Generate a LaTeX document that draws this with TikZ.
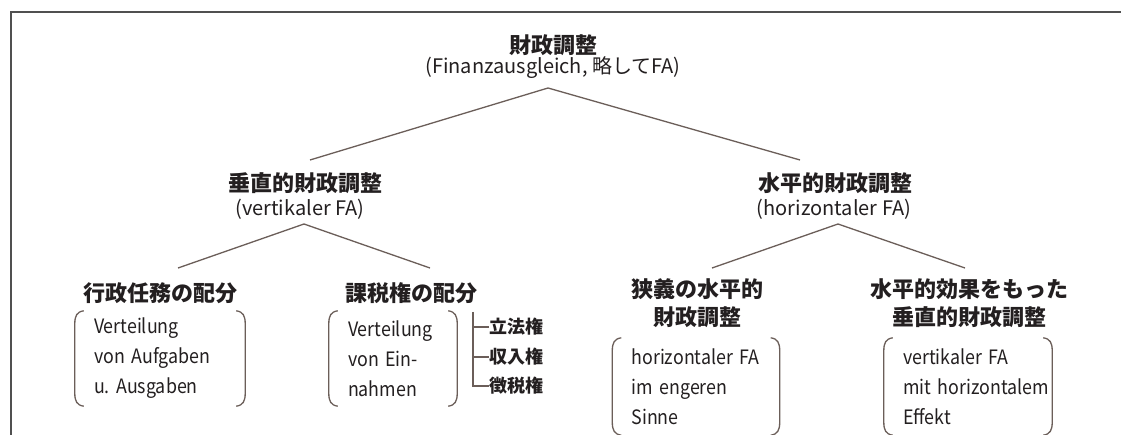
\documentclass[tikz,border=0pt]{standalone}
\usepackage{fontspec}
\setmainfont{Noto Sans CJK JP}
\newfontfamily\bodyfont[FakeStretch=0.9]{Noto Sans CJK JP}
\usetikzlibrary{calc}
\definecolor{txt}{HTML}{231F20}
\definecolor{lnc}{HTML}{6B5E59}
\definecolor{frm}{HTML}{505050}
\newcommand{\drawparens}[1]{%
  \draw[brk] ($(#1.north west)+(9,0)$) .. controls ($(#1.north west)+(2,1)$) and ($(#1.north west)+(0,5)$) .. ($(#1.north west)+(0,13)$)
    -- ($(#1.south west)+(0,-13)$) .. controls ($(#1.south west)+(0,-5)$) and ($(#1.south west)+(2,-1)$) .. ($(#1.south west)+(9,0)$);
  \draw[brk] ($(#1.north east)+(-9,0)$) .. controls ($(#1.north east)+(-2,1)$) and ($(#1.north east)+(0,5)$) .. ($(#1.north east)+(0,13)$)
    -- ($(#1.south east)+(0,-13)$) .. controls ($(#1.south east)+(0,-5)$) and ($(#1.south east)+(-2,-1)$) .. ($(#1.south east)+(-9,0)$);
}
\frenchspacing
\begin{document}
\begin{tikzpicture}[x=1pt,y=-1pt,
  head/.style={font=\fontsize{22}{28}\selectfont\bfseries, text=txt, inner sep=0pt},
  sub/.style={font=\fontsize{20}{24}\selectfont, text=txt, inner sep=0pt},
  body/.style={font=\bodyfont\fontsize{19.8}{30}\selectfont\frenchspacing, text=txt, align=left, inner xsep=19pt, inner ysep=0pt, minimum height=95pt},
  side/.style={font=\fontsize{18}{22}\selectfont\bfseries, text=txt, inner sep=0pt, anchor=west},
  ln/.style={draw=lnc, line width=1.3pt},
  brk/.style={draw=lnc, line width=1.3pt},
]
\useasboundingbox (0,0) rectangle (1121,435);
\fill[white] (0,0) rectangle (1121,435);
\draw[frm, line width=1.2pt] (11,435) -- (11,12) -- (1121,12);

% headings
\node[head] (root) at (553,45) {財政調整};
\node[sub] (roots) at (553,68) {(Finanzausgleich, 略してFA)};
\node[head] (v) at (305,183) {垂直的財政調整};
\node[sub] (vs) at (300,209) {(vertikaler FA)};
\node[head] (h) at (835,183) {水平的財政調整};
\node[sub] (hs) at (834,209) {(horizontaler FA)};
\node[head] (v1) at (160,293) {行政任務の配分};
\node[head] (v2) at (411,293) {課税権の配分};
\node[head, align=center] (h1) at (697,303) {狭義の水平的\\財政調整};
\node[head, align=center] (h2) at (969,303) {水平的効果をもった\\垂直的財政調整};

% connectors
\coordinate (a0) at (548,88);
\coordinate (e1) at (310,160);
\coordinate (e2) at (800,160);
\draw[ln] (e1) -- (a0) -- (e2);
\coordinate (av) at (304,224);
\coordinate (ev1) at (178,268);
\coordinate (ev2) at (430,268);
\draw[ln] (ev1) -- (av) -- (ev2);
\coordinate (ah) at (838,224);
\coordinate (eh1) at (712,268);
\coordinate (eh2) at (965,268);
\draw[ln] (eh1) -- (ah) -- (eh2);

% boxes
\node[body, text width=132pt] (b1) at (160,358.5) {\mbox{Verteilung}\\\mbox{von Aufgaben}\\\mbox{u. Ausgaben}};
\node[body, text width=90pt] (b2) at (393,358.5) {\mbox{Verteilung}\\\mbox{von Ein-}\\\mbox{nahmen}};
\node[body, text width=129pt, minimum height=97pt] (b3) at (696,386.5) {\mbox{horizontaler FA}\\\mbox{im engeren}\\\mbox{Sinne}};
\node[body, text width=130pt, minimum height=97pt] (b4) at (968,386.5) {\mbox{vertikaler FA}\\\mbox{mit horizontalem}\\\mbox{Effekt}};
\drawparens{b1}
\drawparens{b2}
\drawparens{b3}
\drawparens{b4}

% side bracket
\node[side] (r1) at (489,327) {立法権};
\node[side] (r2) at (489,357) {収入権};
\node[side] (r3) at (489,386) {徴税権};
\coordinate (sb) at (473,312);
\draw[ln] (sb) |- (r3.west);
\draw[ln] (sb |- r1.west) -- (r1.west);
\draw[ln] (sb |- r2.west) -- (r2.west);
\end{tikzpicture}
\end{document}
